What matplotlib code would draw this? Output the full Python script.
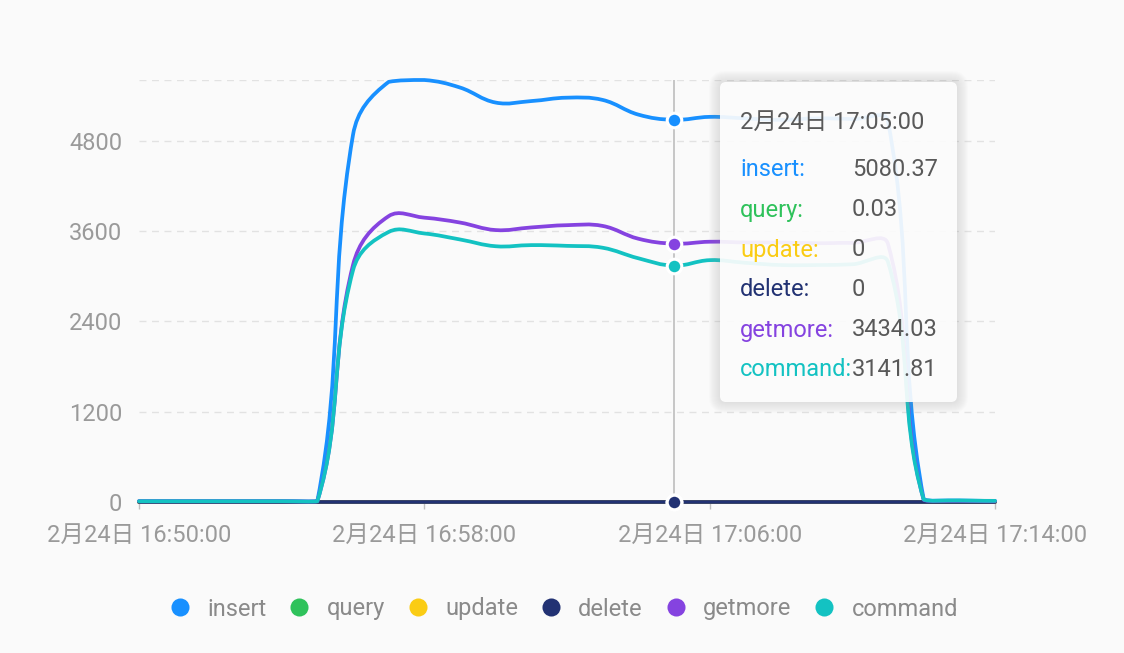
import numpy as np
import pandas as pd
import matplotlib
matplotlib.use("Agg")
import matplotlib.pyplot as plt
import matplotlib.dates as mdates
from matplotlib.path import Path
from matplotlib.patches import PathPatch, FancyBboxPatch
from matplotlib.lines import Line2D

# ---------------- data ----------------
times = pd.date_range("2024-02-24 16:50:00", "2024-02-24 17:14:00", freq="1min")

insert = [12, 12, 12, 12, 12, 12, 4880, 5585, 5610, 5510, 5310, 5330, 5375, 5345,
          5150, 5080.37, 5120, 5100, 5080, 5100, 5090, 5060, 40, 20, 15]
query = [0, 0, 0, 0, 0, 0, 0.02, 0.03, 0.03, 0.02, 0.03, 0.03, 0.02, 0.03,
         0.03, 0.03, 0.03, 0.02, 0.03, 0.03, 0.03, 0.02, 0, 0, 0]
update = [0] * 25
delete = [0] * 25
getmore = [10, 10, 10, 10, 10, 10, 3150, 3800, 3780, 3715, 3615, 3650, 3680, 3670,
           3500, 3434.03, 3460, 3450, 3450, 3440, 3445, 3430, 30, 15, 10]
command = [10, 10, 10, 10, 10, 10, 3080, 3590, 3570, 3490, 3400, 3415, 3405, 3380,
           3240, 3141.81, 3215, 3180, 3150, 3150, 3160, 3190, 35, 20, 15]

series_names = ["insert", "query", "update", "delete", "getmore", "command"]
series_values = [insert, query, update, delete, getmore, command]
colors = ["#1890FF", "#2FC25B", "#FACC14", "#223273", "#8543E0", "#13C2C2"]

y_ticks = [0, 1200, 2400, 3600, 4800]
y_tick_labels = ["0", "1200", "2400", "3600", "4800"]
x_tick_times = ["2024-02-24 16:50:00", "2024-02-24 16:58:00",
                "2024-02-24 17:06:00", "2024-02-24 17:14:00"]
x_tick_labels = ["2月24日 16:50:00", "2月24日 16:58:00",
                 "2月24日 17:06:00", "2月24日 17:14:00"]

tooltip_time = "2024-02-24 17:05:00"
tooltip_title = "2月24日 17:05:00"
tooltip_texts = ["5080.37", "0.03", "0", "0", "3434.03", "3141.81"]

# ---------------- style ----------------
plt.rcParams["font.family"] = ["Roboto", "Noto Sans CJK SC", "DejaVu Sans"]
FS = 17
BG = "#fafafa"

W, H = 1124, 653
fig = plt.figure(figsize=(W / 100, H / 100), dpi=100, facecolor=BG)
L, R, T, B = 139, 995, 80, 502
ax = fig.add_axes([L / W, 1 - B / H, (R - L) / W, (B - T) / H])
ax.set_facecolor(BG)

xnum = mdates.date2num(times)
ymax = max(insert)
ax.set_xlim(xnum[0], xnum[-1])
ax.set_ylim(0, ymax)

# grid
for yv in y_ticks[1:] + [ymax]:
    ax.axhline(yv, color="#e2e2e2", lw=1.0, ls=(0, (5, 4)), zorder=0)

for s in ["top", "right", "left"]:
    ax.spines[s].set_visible(False)
ax.spines["bottom"].set_color("#c8c8c8")
ax.spines["bottom"].set_linewidth(1.0)

ax.set_yticks(y_ticks)
ax.set_yticklabels(y_tick_labels)
ax.tick_params(axis="y", length=0, pad=12, labelsize=FS, labelcolor="#9a9a9a")
xt = mdates.date2num(pd.to_datetime(x_tick_times))
ax.set_xticks(xt)
ax.set_xticklabels(x_tick_labels)
ax.tick_params(axis="x", length=5, width=1, color="#bfbfbf", pad=11,
               labelsize=FS, labelcolor="#9a9a9a")


def smooth_path(xs, ys, smooth=0.4):
    pts = ax.transData.transform(np.column_stack([xs, ys]))
    bb = ax.bbox
    lo = np.array([bb.x0, bb.y0])
    hi = np.array([bb.x1, bb.y1])
    n = len(pts)
    cps = []
    for i in range(n):
        if i == 0 or i == n - 1:
            cps.append(pts[i])
            continue
        p, prev, nxt = pts[i], pts[i - 1], pts[i + 1]
        v = (nxt - prev) * smooth
        d0 = np.hypot(*(p - prev))
        d1 = np.hypot(*(p - nxt))
        s = d0 + d1
        if s:
            d0 /= s
            d1 /= s
        cp0 = np.clip(p - v * d0, lo, hi)
        cp1 = np.clip(p + v * d1, lo, hi)
        cps.append(cp0)
        cps.append(cp1)
    verts = [pts[0]]
    codes = [Path.MOVETO]
    for i in range(n - 1):
        verts += [cps[2 * i], cps[2 * i + 1], pts[i + 1]]
        codes += [Path.CURVE4] * 3
    verts = ax.transData.inverted().transform(np.array(verts))
    return Path(verts, codes)


for k, (name, vals, c) in enumerate(zip(series_names, series_values, colors)):
    path = smooth_path(xnum, np.array(vals, dtype=float))
    ax.add_patch(PathPatch(path, fill=False, edgecolor=c, lw=2.7,
                           capstyle="round", joinstyle="round", zorder=3 + k * 0.1,
                           clip_on=False))

# crosshair + active points
tx = mdates.date2num(pd.Timestamp(tooltip_time))
ti = int(np.argmin(np.abs(xnum - tx)))
ax.plot([tx, tx], [0, ymax], color="#c2c2c2", lw=1.3, zorder=2.5)
for k, (vals, c) in enumerate(zip(series_values, colors)):
    ax.plot([tx], [vals[ti]], "o", ms=10.5, mfc=c, mec="white", mew=2.2,
            zorder=5 + k * 0.1, clip_on=False)

# legend
handles = [Line2D([0], [0], marker="o", ls="none", ms=13, mfc=c, mec=c, mew=0)
           for c in colors]
fig.legend(handles, series_names, loc="center", bbox_to_anchor=(0.502, 1 - 609 / H),
           ncol=6, frameon=False, fontsize=FS, handlelength=0.8,
           handletextpad=0.75, columnspacing=1.0, labelcolor="#8a8a8a")

# tooltip overlay (pixel coordinates)
ov = fig.add_axes([0, 0, 1, 1], zorder=10)
ov.set_xlim(0, W)
ov.set_ylim(H, 0)
ov.axis("off")
ov.patch.set_alpha(0)
bx0, by0, bx1, by1, rad = 720, 82, 957, 402, 6
for k in range(1, 12):
    ov.add_patch(FancyBboxPatch((bx0 + rad, by0 + rad), bx1 - bx0 - 2 * rad,
                                by1 - by0 - 2 * rad,
                                boxstyle=f"round,pad={rad + k}", fc="#9a9a9a",
                                ec="none", alpha=0.022))
ov.add_patch(FancyBboxPatch((bx0 + rad, by0 + rad), bx1 - bx0 - 2 * rad,
                            by1 - by0 - 2 * rad, boxstyle=f"round,pad={rad}",
                            fc="white", ec="none", alpha=0.9))
ov.text(740, 122, tooltip_title, fontsize=FS, color="#595959", va="center", ha="left")
row_y = [170, 210, 250, 290, 330, 370]
for name, txt, c, yy in zip(series_names, tooltip_texts, colors, row_y):
    ov.text(740, yy, name + ":", fontsize=FS, color=c, va="center", ha="left")
    ov.text(852, yy, txt, fontsize=FS, color="#595959", va="center", ha="left")

fig.savefig("out.png", dpi=100, facecolor=BG)
